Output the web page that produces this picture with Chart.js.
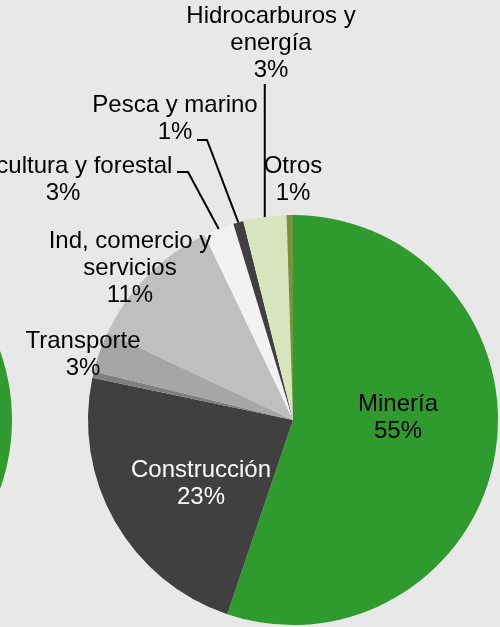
<!DOCTYPE html>
<html>
<head>
<meta charset="utf-8">
<script src="https://cdn.jsdelivr.net/npm/chart.js@4"></script>
<style>
    body { margin: 0; background: #e7e8e7; overflow: hidden; }
    .wrap { position: relative; width: 500px; height: 627px; }
    #chartIzq { position: absolute; left: -398px; top: 0; }
    #chartSector { position: absolute; left: 0; top: 0; }
</style>
</head>
<body>
<div class="wrap">
    <canvas id="chartIzq" width="410" height="627"></canvas>
    <canvas id="chartSector" width="500" height="627"></canvas>
</div>
<script>
// DATOS: participación por sector (%)
const sectores = ['Minería', 'Construcción', '', 'Transporte', 'Ind, comercio y servicios',
    'Agricultura y forestal', 'Pesca y marino', 'Hidrocarburos y energía', 'Otros'];
const valores = [55.2, 23.1, 0.5, 3.2, 10.9, 2.4, 0.8, 3.4, 0.5];
const porcentajes = ['55%', '23%', '', '3%', '11%', '3%', '1%', '3%', '1%'];
const colores = ['#2f9a2d', '#404040', '#7f7f7f', '#a6a6a6', '#bfbfbf',
    '#f2f2f2', '#404040', '#d7e4bd', '#77933c'];

// grafico vecino (solo se ve el borde a la izquierda)
const valoresIzq = [100];
const coloresIzq = ['#2f9a2d'];

const fuente = '24px "Liberation Sans", Arial, sans-serif';

// como se escribe cada etiqueta: lineas, centro x, primera linea base y, guia
const etiquetas = [
    { lineas: ['Minería'], x: 398, y: 411, color: '#000' },
    { lineas: ['Construcción'], x: 201, y: 477, color: '#fff' },
    null,
    { lineas: ['Transporte'], x: 83, y: 348, color: '#000' },
    { lineas: ['Ind, comercio y', 'servicios'], x: 130, y: 248, color: '#000' },
    { lineas: ['Agricultura y forestal'], x: 63, y: 173, color: '#000', guia: [177, 172, 188] },
    { lineas: ['Pesca y marino'], x: 175, y: 112, color: '#000', guia: [197, 140, 207] },
    { lineas: ['Hidrocarburos y', 'energía'], x: 271, y: 23, color: '#000', vertical: 84 },
    { lineas: ['Otros'], x: 293, y: 173, color: '#000' }
];

const pluginEtiquetas = {
    id: 'etiquetas',
    afterDatasetsDraw(chart) {
        const ctx = chart.ctx;
        const arcos = chart.getDatasetMeta(0).data;
        ctx.save();
        ctx.font = fuente;
        ctx.textAlign = 'center';
        ctx.textBaseline = 'alphabetic';
        arcos.forEach((arco, i) => {
            const et = etiquetas[i];
            if (!et) return;
            const lineas = et.lineas.concat([porcentajes[i]]);
            ctx.fillStyle = et.color;
            lineas.forEach((t, j) => ctx.fillText(t, et.x, et.y + j * 27));

            // punto del borde en el medio del sector
            const medio = (arco.startAngle + arco.endAngle) / 2;
            const bx = arco.x + arco.outerRadius * Math.cos(medio);
            const by = arco.y + arco.outerRadius * Math.sin(medio);
            ctx.strokeStyle = '#000';
            ctx.lineWidth = 2;
            if (et.guia) {
                ctx.beginPath();
                ctx.moveTo(et.guia[0], et.guia[1]);
                ctx.lineTo(et.guia[2], et.guia[1]);
                ctx.lineTo(bx, by);
                ctx.stroke();
            }
            if (et.vertical) {
                ctx.beginPath();
                ctx.moveTo(bx, et.vertical);
                ctx.lineTo(bx, by);
                ctx.stroke();
            }
        });
        ctx.restore();
    }
};

new Chart(document.getElementById('chartIzq'), {
    type: 'pie',
    data: {
        labels: [''],
        datasets: [{ data: valoresIzq, backgroundColor: coloresIzq, borderWidth: 0 }]
    },
    options: {
        responsive: false,
        animation: false,
        layout: { padding: { left: 0, right: 0, top: 215, bottom: 2 } },
        plugins: { legend: { display: false }, tooltip: { enabled: false } }
    }
});

new Chart(document.getElementById('chartSector'), {
    type: 'pie',
    data: {
        labels: sectores,
        datasets: [{
            data: valores,
            backgroundColor: colores,
            borderWidth: 0
        }]
    },
    options: {
        responsive: false,
        animation: false,
        layout: { padding: { left: 88, right: 2, top: 215, bottom: 2 } },
        plugins: {
            legend: { display: false },
            tooltip: { enabled: false }
        }
    },
    plugins: [pluginEtiquetas]
});
</script>
</body>
</html>
